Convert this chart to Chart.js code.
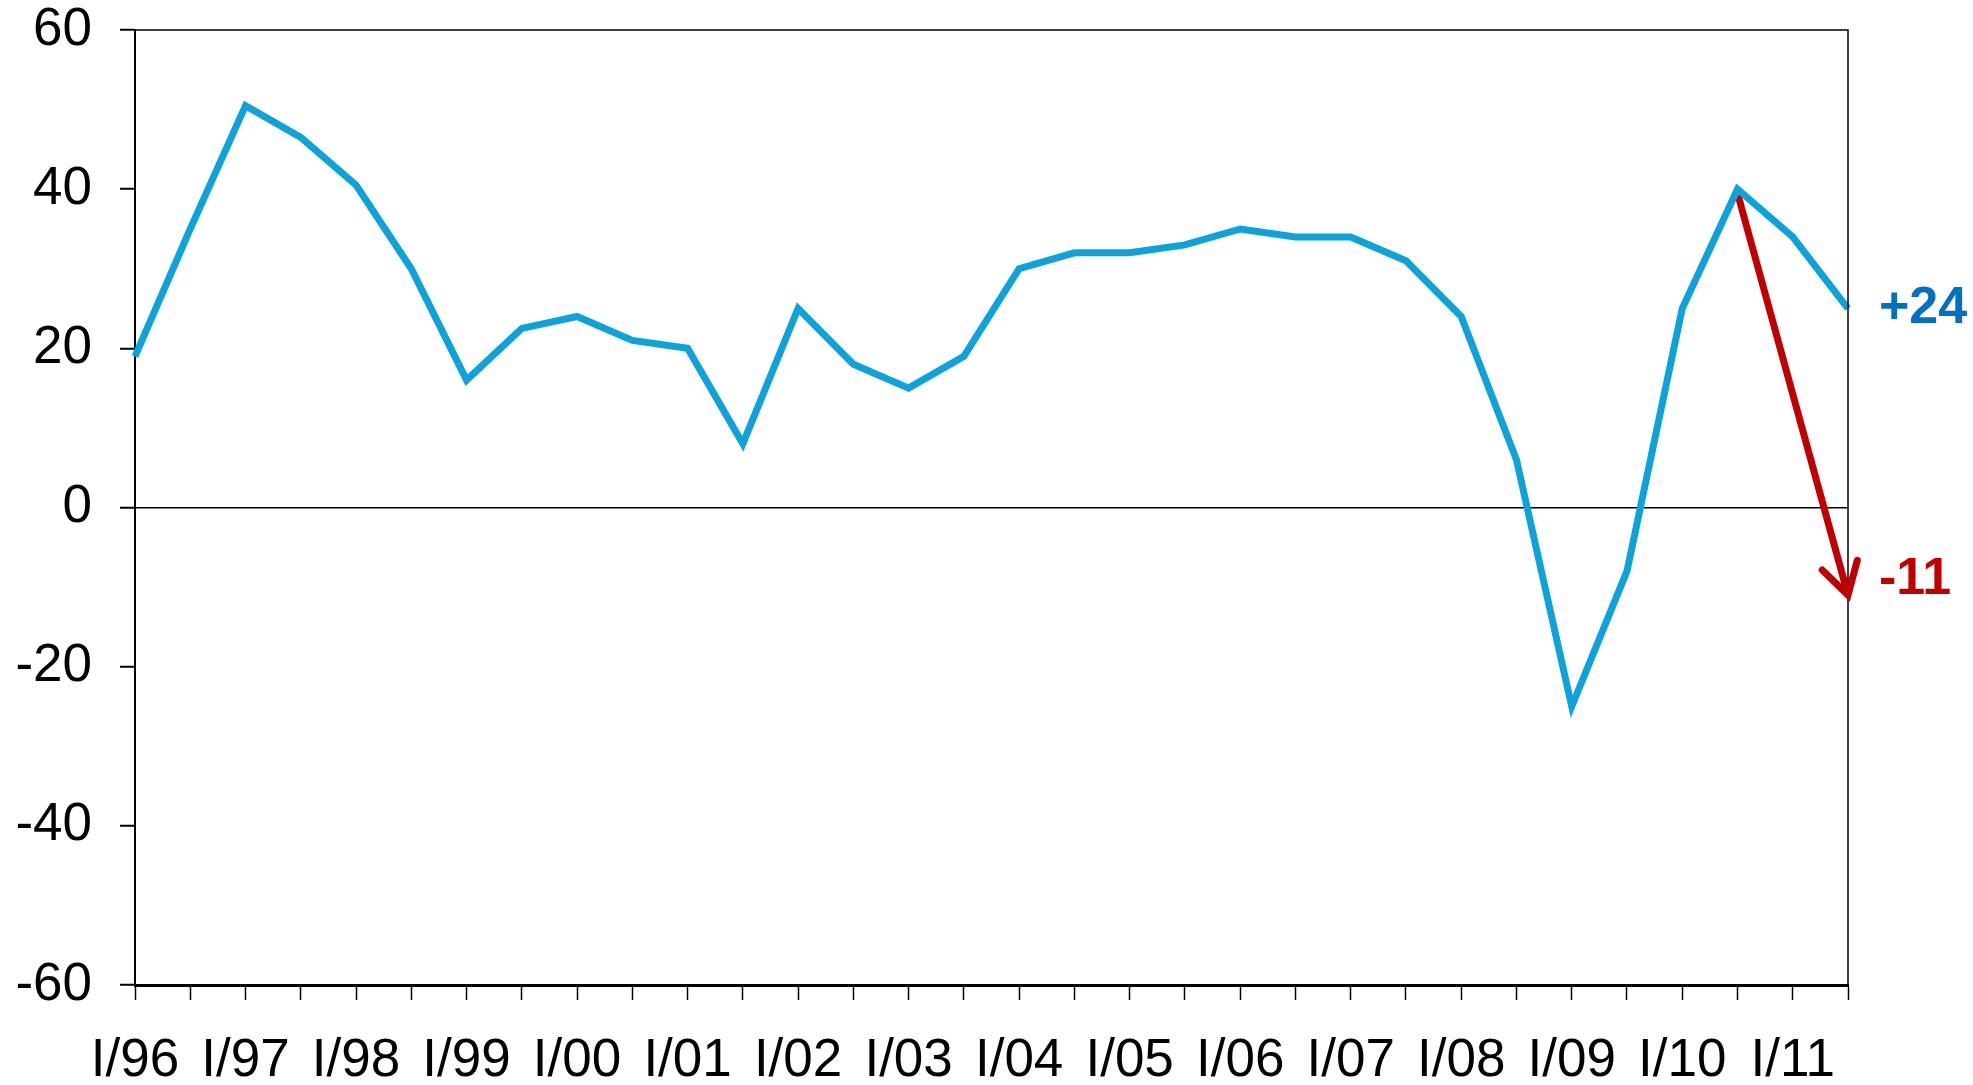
<!DOCTYPE html>
<html>
<head>
<meta charset="utf-8">
<script src="https://cdn.jsdelivr.net/npm/chart.js@4"></script>
<style>
  body { margin: 0; background: #fff; }
</style>
</head>
<body>
<canvas id="chart" width="1973" height="1085"></canvas>
<script>
// half-year periods, I/96 .. II/11
let periods = ['I/96','II/96','I/97','II/97','I/98','II/98','I/99','II/99',
               'I/00','II/00','I/01','II/01','I/02','II/02','I/03','II/03',
               'I/04','II/04','I/05','II/05','I/06','II/06','I/07','II/07',
               'I/08','II/08','I/09','II/09','I/10','II/10','I/11','II/11']

let indexValues = [19, 35, 50.5, 46.5, 40.5, 30, 16, 22.5,
                   24, 21, 20, 8, 25, 18, 15, 19,
                   30, 32, 32, 33, 35, 34, 34, 31,
                   24, 6, -25, -8, 25, 40, 34, 25]

// red arrow: from the peak down to the expectation
let arrowValues = [null, null, null, null, null, null, null, null,
                   null, null, null, null, null, null, null, null,
                   null, null, null, null, null, null, null, null,
                   null, null, null, null, null, 39.5, null, -11]

let endLabels = ['+24', '-11']
let yTicks = [-60, -40, -20, 0, 20, 40, 60]

let blue = '#0ea2db'
let red = '#c00000'
let fontFamily = '"Liberation Sans", Arial, sans-serif'

let frame = {
    id: 'frame',
    afterDraw(chart) {
        let c = chart.ctx
        let a = chart.chartArea
        c.save()
        c.strokeStyle = '#000'
        c.lineWidth = 1.5
        c.beginPath()
        c.moveTo(a.left, a.top)
        c.lineTo(a.right, a.top)
        c.lineTo(a.right, a.bottom)
        c.stroke()

        // arrow head on the red line
        let pts = chart.getDatasetMeta(1).data
        let p1 = pts[29], p2 = pts[31]
        let ang = Math.atan2(p2.y - p1.y, p2.x - p1.x)
        let len = 36
        c.strokeStyle = red
        c.lineWidth = 7
        c.lineCap = 'round'
        c.beginPath()
        c.moveTo(p2.x - len * Math.cos(ang - 0.53), p2.y - len * Math.sin(ang - 0.53))
        c.lineTo(p2.x, p2.y)
        c.lineTo(p2.x - len * Math.cos(ang + 0.53), p2.y - len * Math.sin(ang + 0.53))
        c.stroke()

        // end labels
        let last = chart.getDatasetMeta(0).data[31]
        c.font = 'bold 52px ' + fontFamily
        c.textBaseline = 'middle'
        c.textAlign = 'left'
        c.fillStyle = '#0070c0'
        c.fillText(endLabels[0], last.x + 31, last.y)
        c.fillStyle = red
        c.fillText(endLabels[1], p2.x + 31, p2.y - 15)
        c.restore()
    }
}

let ctx = document.getElementById('chart').getContext('2d')
let myChart = new Chart(ctx, {
    type: 'line',
    data: {
        labels: periods,
        datasets: [
            {
                data: indexValues,
                borderColor: blue,
                borderWidth: 7,
                fill: false,
                tension: 0,
                pointRadius: 0,
                clip: false
            },
            {
                data: arrowValues,
                borderColor: red,
                borderWidth: 7,
                fill: false,
                tension: 0,
                pointRadius: 0,
                spanGaps: true,
                clip: false
            }
        ]
    },
    options: {
        responsive: false,
        animation: false,
        devicePixelRatio: 1,
        layout: { padding: { top: 30, right: 125, left: 0, bottom: 0 } },
        plugins: {
            legend: { display: false },
            tooltip: { enabled: false }
        },
        scales: {
            x: {
                offset: false,
                afterFit(scale) {
                    scale.height = 100
                    scale.paddingLeft = 0
                    scale.paddingRight = 0
                },
                border: { color: '#000', width: 3 },
                grid: {
                    drawOnChartArea: false,
                    drawTicks: true,
                    tickLength: 15,
                    tickColor: '#000',
                    tickWidth: 1.5
                },
                ticks: {
                    autoSkip: false,
                    maxRotation: 0,
                    padding: 30,
                    color: '#000',
                    font: { family: fontFamily, size: 53 },
                    callback(val, i) { return i % 2 === 0 ? this.getLabelForValue(val) : '' }
                }
            },
            y: {
                min: -60,
                max: 60,
                afterFit(scale) {
                    scale.width = 135
                    scale.paddingTop = 0
                    scale.paddingBottom = 0
                },
                afterBuildTicks(scale) { scale.ticks = yTicks.map(v => ({ value: v })) },
                border: { color: '#000', width: 2 },
                grid: {
                    color: c => c.tick && c.tick.value === 0 ? '#000' : 'rgba(0,0,0,0)',
                    lineWidth: 1.5,
                    tickLength: 15,
                    tickColor: '#000',
                    tickWidth: 2
                },
                ticks: {
                    padding: 28,
                    color: '#000',
                    font: { family: fontFamily, size: 53 }
                }
            }
        }
    },
    plugins: [frame]
})
</script>
</body>
</html>
